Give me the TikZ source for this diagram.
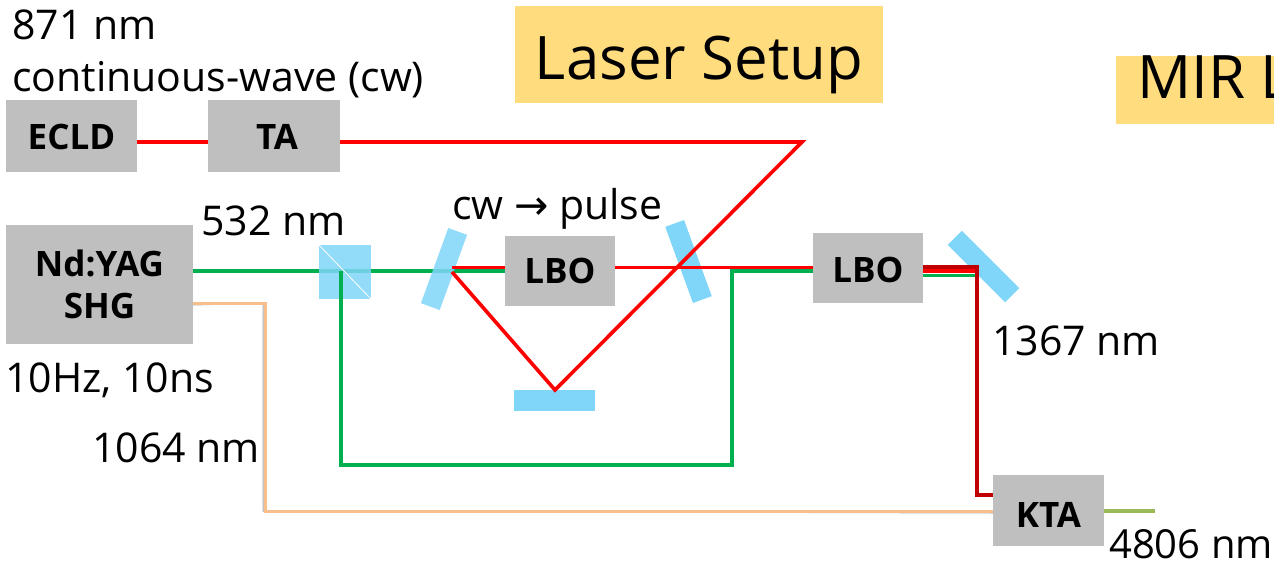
\documentclass[tikz,border=0pt]{standalone}
\usepackage{fontspec}
\setmainfont{Open Sans}
\newfontfamily\arrowfont{DejaVu Sans}
\definecolor{boxgrey}{HTML}{BFBFBF}
\definecolor{optblue}{HTML}{7FD6F9}
\definecolor{titleyel}{HTML}{FFDC7E}
\definecolor{beamgreen}{HTML}{00B050}
\definecolor{beamred}{HTML}{FF0000}
\definecolor{beamdark}{HTML}{C00000}
\definecolor{beamorange}{HTML}{F8BE8C}
\definecolor{beamolive}{HTML}{9BBB59}
\tikzset{
  x=1pt,y=-1pt,
  devbox/.style={fill=boxgrey,inner sep=0pt,font=\fontsize{35}{42}\selectfont\bfseries,align=center,text=black},
  optic/.style={fill=optblue,inner sep=0pt},
  lbl/.style={inner sep=0pt,font=\fontsize{41}{48}\selectfont,anchor=base west,text=black},
  titlebox/.style={fill=titleyel,inner sep=0pt,font=\fontsize{60}{70}\selectfont,text=black},
  red beam/.style={draw=beamred,line width=3.6pt},
  green beam/.style={draw=beamgreen,line width=3.4pt},
  dark beam/.style={draw=beamdark,line width=3.4pt},
  orange beam/.style={draw=beamorange,line width=3pt},
  olive beam/.style={draw=beamolive,line width=3.4pt},
}
\begin{document}
\begin{tikzpicture}
\useasboundingbox (0,0) rectangle (1274,564);
\clip (0,0) rectangle (1274,564);
% title boxes
\node[titlebox,minimum width=368pt,text height=74pt,text depth=23pt,anchor=base,text centered] (laser) at (699,80) {Laser Setup};
\node[titlebox,text height=43pt,text depth=25pt,anchor=base west,inner xsep=21pt] (mir) at (1116,99) {MIR L};
% devices
\node[devbox,minimum width=131pt,minimum height=72pt,text height=28pt,text depth=0pt] (ecld) at (71.5,136) {ECLD};
\node[devbox,minimum width=132pt,minimum height=72pt,text height=28pt,text depth=0pt] (ta) at (274,136) {\hspace*{6pt}TA};
\node[devbox,minimum width=187pt,minimum height=119pt] (yag) at (99.5,284.5) {Nd:YAG\\SHG};
\node[devbox,minimum width=110pt,minimum height=70pt,text height=24pt,text depth=0pt] (lboa) at (560,271) {LBO};
\node[devbox,minimum width=110pt,minimum height=70pt,text height=28pt,text depth=0pt] (lbob) at (868,268) {LBO};
\node[devbox,minimum width=111pt,minimum height=71pt,text height=33pt,text depth=0pt] (kta) at (1048.5,510.5) {KTA};
% beam corner points
\coordinate (turn) at (802,142);
\coordinate (bot) at (555,390);
\coordinate (hit) at (452,272);
\coordinate (cubeg) at (341,271);
\coordinate (gbl) at (341,465);
\coordinate (gbr) at (732,465);
\coordinate (gtr) at (732,271);
\coordinate (mhit) at (977,267);
\coordinate (dk) at (977,495);
\coordinate (oa) at (265,303);
\coordinate (ob) at (265,511);
\coordinate (oend) at (1155,511);
% green beams
\draw[green beam] (yag.east |- cubeg) -- (lboa.west |- cubeg);
\draw[green beam] (cubeg) -- (gbl) -- (gbr) -- (gtr) -- (lbob.west |- gtr);
\draw[green beam] (lbob.east |- 0,275.5) -- (mhit |- 0,275.5);
% optics
\node[optic,opacity=.85,minimum width=52pt,minimum height=54pt] (cube) at (345,272) {};
\draw[white,line width=.8pt] (cube.north west) -- (cube.south east);
\node[optic,opacity=.85,minimum width=20pt,minimum height=80pt,rotate=-20] (ma) at (444,269) {};
\node[optic,minimum width=20pt,minimum height=81pt,rotate=20] (mb) at (688.5,261.5) {};
\node[optic,minimum width=20pt,minimum height=81pt,rotate=45] (mc) at (983.5,266.5) {};
\node[optic,minimum width=81pt,minimum height=21pt] (md) at (554.5,400.5) {};
% cube re-draw of green drop below the cube
\draw[green beam] (cubeg) -- (gbl);
% red beams
\draw[red beam] (ecld.east |- turn) -- (ta.west |- turn);
\draw[red beam,line join=miter] (ta.east |- turn) -- (turn) -- (bot) -- (hit);
\draw[red beam] (hit |- 0,267.5) -- (lboa.west |- 0,267.5);
\draw[red beam] (lboa.east |- 0,267.5) -- (lbob.west |- 0,267.5);
\draw[red beam] (lbob.east |- 0,271) -- (mhit |- 0,271);
% dark red
\draw[dark beam] (lbob.east |- mhit) -- (mhit) -- (dk) -- (kta.west |- dk);
% orange
\draw[black!35,line width=1pt] ([yshift=-2pt]yag.east |- oa) -- ([xshift=-2pt]oa) -- ([xshift=-2pt]ob) -- ([yshift=-2pt]kta.west |- ob);
\draw[orange beam] (yag.east |- oa) -- (oa) -- (ob) -- (kta.west |- ob);
\draw[olive beam] (kta.east |- oend) -- (oend);
% labels
\node[lbl] (l871) at (12,40) {871 nm};
\node[lbl] (lcw) at (12,92) {continuous-wave (cw)};
\node[lbl] (l532) at (201,236) {532 nm};
\node[lbl] (lpulse) at (452,220) {cw {\arrowfont →} pulse};
\node[lbl] (lrate) at (5,392) {10Hz, 10ns};
\node[lbl] (l1064) at (92,462) {1064 nm};
\node[lbl] (l1367) at (992,355) {1367 nm};
\node[lbl,font=\fontsize{40}{48}\selectfont] (l4806) at (1109,558) {4806 nm};
\end{tikzpicture}
\end{document}
